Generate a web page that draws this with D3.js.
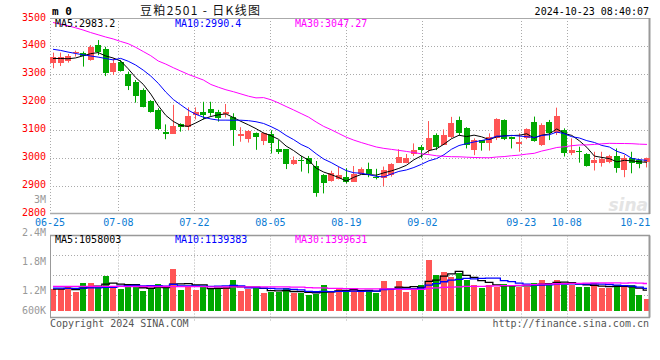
<!DOCTYPE html>
<html><head><meta charset="utf-8">
<script src="https://cdn.jsdelivr.net/npm/d3@7"></script>
<style>
body{margin:0;background:#fff}
svg{display:block}
text{font-family:"DejaVu Sans Mono",monospace;font-size:10px}
</style>
</head><body><div id="chart"></div>
<script>
// ---- data ----
const dates = ["06-25","06-26","06-27","06-28",
 "07-01","07-02","07-03","07-04","07-05","07-08","07-09","07-10","07-11","07-12",
 "07-15","07-16","07-17","07-18","07-19","07-22","07-23","07-24","07-25","07-26",
 "07-29","07-30","07-31","08-01","08-02","08-05","08-06","08-07","08-08","08-09",
 "08-12","08-13","08-14","08-15","08-16","08-19","08-20","08-21","08-22","08-23",
 "08-26","08-27","08-28","08-29","08-30","09-02","09-03","09-04","09-05","09-06",
 "09-09","09-10","09-11","09-12","09-13","09-18","09-19","09-20","09-23","09-24",
 "09-25","09-26","09-27","09-30","10-08","10-09","10-10","10-11","10-14","10-15",
 "10-16","10-17","10-18","10-21","10-22","10-23"];
const opens = [3338,3338,3347,3375,3376,3350,3403,3389,3308,3344,
 3300,3272,3242,3204,3171,3093,3085,3121,3111,3153,
 3165,3174,3165,3155,3147,3079,3066,3087,3061,3084,
 3031,3030,2977,2993,2998,2970,2938,2918,2924,2930,
 2914,2942,2960,2930,2926,2938,2982,2982,3013,3039,
 3027,3081,3045,3075,3135,3105,3027,3063,3054,3069,
 3135,3075,3049,3069,3129,3045,3129,3087,3099,3018,
 3023,3012,2980,2982,2986,3006,2956,2998,2992,2986];
const highs = [3376,3376,3371,3383,3380,3403,3421,3397,3356,3350,
 3308,3278,3248,3206,3177,3119,3189,3123,3180,3180,
 3200,3200,3171,3192,3159,3109,3099,3090,3091,3098,
 3063,3030,3004,3006,3006,2988,2941,2953,2968,2962,
 2970,2965,2982,2960,2968,2980,3030,3013,3051,3045,
 3131,3087,3101,3146,3147,3109,3069,3063,3087,3141,
 3137,3075,3087,3105,3147,3123,3135,3179,3105,3069,
 3039,3016,3021,3021,3010,3033,3010,3021,2994,3000];
const lows = [3320,3328,3340,3362,3326,3347,3367,3292,3296,3308,
 3242,3197,3180,3161,3099,3066,3085,3093,3099,3137,
 3137,3150,3129,3144,3042,3057,3054,3028,3045,3015,
 3013,2959,2974,2950,2944,2860,2872,2914,2922,2908,
 2914,2942,2930,2922,2898,2932,2982,2980,3006,2998,
 3015,3027,3045,3069,3081,3033,3009,3025,3025,3063,
 3063,3033,3021,3066,3057,3042,3063,3081,3004,3009,
 2982,2968,2954,2968,2980,2946,2930,2944,2962,2965];
const closes = [3359,3359,3364,3377,3364,3397,3379,3304,3340,3311,
 3257,3222,3183,3165,3103,3084,3113,3111,3149,3165,
 3153,3159,3141,3165,3099,3085,3097,3073,3087,3052,
 3019,2977,2992,2990,2977,2875,2908,2946,2938,2914,
 2942,2960,2942,2928,2956,2977,3004,2998,3027,3027,
 3069,3037,3081,3125,3089,3045,3063,3051,3075,3137,
 3066,3066,3057,3101,3061,3117,3087,3149,3018,3027,
 3021,2970,2992,2994,3006,2962,2998,2982,2977,2998];
const volumes = [1.14,1.14,1.28,1.01,1.45,1.50,1.28,1.84,1.28,1.15,
 1.36,1.28,1.05,1.15,1.42,1.24,2.22,1.10,1.24,1.10,
 1.24,1.22,1.19,1.28,1.63,1.05,1.15,1.19,0.96,1.01,
 1.01,1.19,0.96,0.93,0.84,0.88,1.36,1.05,1.14,1.01,
 1.10,1.05,1.10,0.96,1.57,1.10,1.57,1.01,1.19,1.36,
 2.68,1.89,2.06,1.80,1.98,1.63,1.36,1.22,1.36,1.28,
 1.40,1.36,1.28,1.28,1.50,1.63,1.50,1.63,1.36,1.36,
 1.28,1.28,1.45,1.19,1.19,1.36,1.28,1.36,0.84,0.64].map(v => v * 1e6);
// moving-average values before enough history exists
const ma5Head = [3355,3355,3354,3357];
const ma10Head = [3388,3384,3378,3373,3368,3364,3360,3355,3350];
const ma30Head = [3484,3478,3472,3465,3457,3448,3440,3432,3425,3416,
 3408,3395,3380,3365,3346,3335,3322,3310,3298,3288,
 3278,3262,3252,3243,3236,3228,3220,3214,3215];
const vma5Head = [1.15,1.15,1.19,1.12].map(v => v * 1e6);
const vma10Head = [1.20,1.20,1.19,1.19,1.20,1.22,1.22,1.25,1.25].map(v => v * 1e6);
const vma30Head = [1.30,1.30,1.30,1.30,1.30,1.30,1.30,1.30,1.30,1.30,
 1.29,1.29,1.29,1.29,1.29,1.29,1.28,1.28,1.28,1.28,
 1.28,1.27,1.27,1.27,1.27,1.27,1.27,1.27,1.27].map(v => v * 1e6);
const priceTicks = [3500,3400,3300,3200,3100,3000,2900,2800];
const volTickLabels = ["2.4M","1.8M","1.2M","600K"];
const volTickValues = [2.4e6,1.8e6,1.2e6,0.6e6];
const dateTicks = ["06-25","07-08","07-22","08-05","08-19","09-02","09-23","10-08","10-21"];
const priceLegend = [["MA5","2983.2"],["MA10","2990.4"],["MA30","3047.27"]];
const volLegend = [["MA5","1058003"],["MA10","1139383"],["MA30","1399631"]];
const maColors = ["#000000","#0000ff","#ff00ff"];
const title = "豆粕2501 - 日K线图";
const symbol = "m 0";
const stamp = "2024-10-23 08:40:07";

// ---- layout ----
const W = 660, H = 360, L = 50, R = 650;
const P = {top: 18, bottom: 213.5};
const V = {top: 235.5, bottom: 317.5, base: 311};
const red = "#ff5555", green = "#00a800", grid = "#aaaaaa", frame = "#999999";

const svg = d3.select("#chart").append("svg").attr("width", W).attr("height", H);
svg.append("rect").attr("width", W).attr("height", H).attr("fill", "#fff");

const x = d3.scaleBand().domain(dates).range([L, R]).paddingInner(0.2).paddingOuter(0).align(0);
const bw = x.bandwidth();
const cx = d => Math.floor(x(d) + bw / 2) + 0.5;
const xTick = d3.scaleLinear().domain([0, dates.length]).range([L, L + 608]);
const yP = d3.scaleLinear().domain([2800, 3500]).range([P.bottom, P.top]);
const yV = d3.scaleLinear().domain([0, 4e6]).range([V.base, V.base - 76]);
const yVLab = d3.scaleLinear().domain([2.4e6, 1.2e6]).range([235.5, 294.3]);

function roll(vals, n, head) {
  return vals.map((v, i) => i < n - 1 ? head[i] : d3.mean(vals.slice(i - n + 1, i + 1)));
}
const pMA = [roll(closes, 5, ma5Head), roll(closes, 10, ma10Head), roll(closes, 30, ma30Head)];
const vMA = [roll(volumes, 5, vma5Head), roll(volumes, 10, vma10Head), roll(volumes, 30, vma30Head)];

const tickIdx = dateTicks.map(d => dates.indexOf(d));
const gridIdx = tickIdx.slice(1, -1);

// ---- price panel grid & frame ----
const g = svg.append("g");
g.selectAll(".hg").data(priceTicks.slice(1, -1)).join("line")
  .attr("x1", L).attr("x2", R).attr("y1", d => Math.round(yP(d)) + 0.5).attr("y2", d => Math.round(yP(d)) + 0.5)
  .attr("stroke", grid).attr("stroke-dasharray", "1,2");
g.selectAll(".vg").data(gridIdx).join("line")
  .attr("x1", d => Math.round(xTick(d)) + 0.5).attr("x2", d => Math.round(xTick(d)) + 0.5)
  .attr("y1", P.top).attr("y2", P.bottom).attr("stroke", grid).attr("stroke-dasharray", "1,2");
g.append("line").attr("x1", L).attr("x2", R).attr("y1", P.top + 0.5).attr("y2", P.top + 0.5).attr("stroke", grid);
g.append("line").attr("x1", L + 0.5).attr("x2", L + 0.5).attr("y1", P.top).attr("y2", P.bottom).attr("stroke", grid).attr("stroke-dasharray", "1,2");
g.append("line").attr("x1", L).attr("x2", R).attr("y1", P.bottom).attr("y2", P.bottom).attr("stroke", grid).attr("stroke-width", 1.5);
g.append("line").attr("x1", R - 0.5).attr("x2", R - 0.5).attr("y1", P.top).attr("y2", P.bottom + 0.5).attr("stroke", frame).attr("stroke-width", 2);

// watermark
svg.append("text").attr("x", 648).attr("y", 211).attr("text-anchor", "end")
  .style("font-family", "Verdana, 'DejaVu Sans', sans-serif").style("font-size", "17px").style("font-style", "italic").style("font-weight", "bold")
  .attr("fill", "#e4e4e4").text("sina");

// ---- candles ----
const idx = d3.range(dates.length);
const col = i => closes[i] >= opens[i] ? red : green;
const cg = svg.append("g");
cg.selectAll(".wick").data(idx).join("line")
  .attr("x1", i => cx(dates[i])).attr("x2", i => cx(dates[i]))
  .attr("y1", i => yP(highs[i])).attr("y2", i => yP(lows[i]))
  .attr("stroke", col);
cg.selectAll(".body").data(idx).join("rect")
  .attr("x", i => Math.round(x(dates[i]))).attr("width", Math.round(bw))
  .attr("y", i => yP(Math.max(opens[i], closes[i])))
  .attr("height", i => Math.max(1, Math.abs(yP(opens[i]) - yP(closes[i]))))
  .attr("fill", col).attr("shape-rendering", "crispEdges");

// price MA lines
const pLine = d3.line().x((v, i) => x(dates[i]) + bw / 2).y(v => yP(v));
pMA.forEach((s, k) => svg.append("path").attr("d", pLine(s)).attr("fill", "none").attr("stroke", maColors[k]).attr("stroke-width", 1));

// price labels
svg.selectAll(".pl").data(priceTicks).join("text")
  .attr("x", 46).attr("y", d => yP(d) + 2.5).attr("text-anchor", "end").attr("fill", "#ff0000").text(d => d);
svg.append("text").attr("x", 46).attr("y", 203).attr("text-anchor", "end").attr("fill", "#999").text("3M");

// date labels
svg.selectAll(".dl").data(tickIdx).join("text")
  .attr("x", d => xTick(d)).attr("y", 225.5).attr("text-anchor", "middle").attr("fill", "#0a7bd4")
  .text((d, i) => dateTicks[i]);

// header
svg.append("text").attr("x", 52).attr("y", 15).attr("fill", "#000").style("font-weight", "bold").style("font-size", "11px").text(symbol);
svg.append("text").attr("x", 140).attr("y", 14.5).attr("fill", "#111")
  .attr("textLength", 120).attr("lengthAdjust", "spacing").attr("xml:space", "preserve")
  .style("font-family", "'Noto Sans CJK SC', sans-serif").style("font-size", "12px").text(title);
svg.append("text").attr("x", 649).attr("y", 15).attr("text-anchor", "end").attr("fill", "#000").text(stamp);

// price legend
const legX = [55, 175, 295];
priceLegend.forEach((d, k) => svg.append("text").attr("x", legX[k]).attr("y", 27).attr("fill", maColors[k]).text(d[0] + ":" + d[1]));

// ---- volume panel ----
const vg = svg.append("g");
vg.selectAll(".vhg").data([1, 2, 3]).join("line")
  .attr("x1", L).attr("x2", R).attr("y1", d => V.top + d * 20).attr("y2", d => V.top + d * 20)
  .attr("stroke", grid).attr("stroke-dasharray", "1,2");
vg.selectAll(".vvg").data(gridIdx).join("line")
  .attr("x1", d => Math.round(xTick(d)) + 0.5).attr("x2", d => Math.round(xTick(d)) + 0.5)
  .attr("y1", V.top).attr("y2", V.bottom + 3).attr("stroke", grid).attr("stroke-dasharray", "1,2");
vg.selectAll(".vb").data(idx).join("rect")
  .attr("x", i => Math.round(x(dates[i]))).attr("width", Math.round(bw))
  .attr("y", i => yV(volumes[i])).attr("height", i => yV(0) - yV(volumes[i]))
  .attr("fill", col).attr("shape-rendering", "crispEdges");
const vLine = d3.line().curve(d3.curveStep).x((v, i) => x(dates[i]) + bw / 2).y(v => yV(v));
vMA.forEach((s, k) => vg.append("path").attr("d", vLine(s)).attr("fill", "none").attr("stroke", maColors[k]).attr("stroke-width", 1.3));
vg.append("line").attr("x1", L).attr("x2", R).attr("y1", V.top).attr("y2", V.top).attr("stroke", frame).attr("stroke-width", 1.5);
vg.append("line").attr("x1", L + 0.5).attr("x2", L + 0.5).attr("y1", V.top).attr("y2", V.bottom).attr("stroke", frame);
vg.append("line").attr("x1", L).attr("x2", R).attr("y1", V.bottom).attr("y2", V.bottom).attr("stroke", frame).attr("stroke-width", 1.5);
vg.append("line").attr("x1", R - 0.5).attr("x2", R - 0.5).attr("y1", V.top).attr("y2", V.bottom).attr("stroke", frame).attr("stroke-width", 2);

svg.selectAll(".vl").data(volTickValues).join("text")
  .attr("x", 46).attr("y", d => Math.min(yVLab(d), 314)).attr("text-anchor", "end").attr("fill", "#999")
  .text((d, i) => volTickLabels[i]);
volLegend.forEach((d, k) => svg.append("text").attr("x", legX[k]).attr("y", 242.5).attr("fill", maColors[k]).text(d[0] + ":" + d[1]));

// footer
svg.append("text").attr("x", 50).attr("y", 327).attr("fill", "#555").text("Copyright 2024 SINA.COM");
svg.append("text").attr("x", 649).attr("y", 327).attr("text-anchor", "end").attr("fill", "#555").text("http://finance.sina.com.cn");
</script>
</body></html>
